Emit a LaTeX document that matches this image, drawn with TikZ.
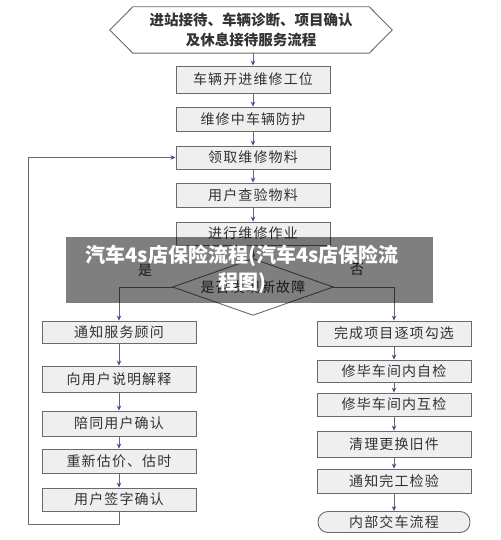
\documentclass[tikz,border=0pt]{standalone}
\usepackage{fontspec}
\newfontfamily\cjk{Noto Sans CJK SC}
\usetikzlibrary{arrows.meta}
\definecolor{linec}{HTML}{6A6A6A}
\definecolor{arrc}{HTML}{3E4F8C}
\definecolor{boxf}{HTML}{EFEFEF}
\definecolor{txt}{HTML}{333333}
\begin{document}
\begin{tikzpicture}[x=1pt,y=-1pt,
  box/.style={draw=linec, fill=boxf, line width=0.9pt, minimum width=154pt, inner sep=0pt,
    font=\cjk\fontsize{14}{16}\selectfont\addfontfeature{LetterSpace=8}, text=txt},
  lbl/.style={font=\cjk\fontsize{14}{16}\selectfont, text=txt},
  conn/.style={draw=linec, line width=0.8pt},
  arr/.style={conn, -{Stealth[length=5pt,width=4.5pt,color=arrc]}}]
\fill[white] (0,0) rectangle (500,540);
\useasboundingbox (0,0) rectangle (500,540);

% start hexagon
\node[minimum width=282pt, minimum height=46pt, inner sep=0pt] (start) at (251,30) {};
\draw[draw=linec, line width=0.9pt, fill=white] ([xshift=23pt]start.north west) -- ([xshift=-23pt]start.north east) -- (start.east)
  -- ([xshift=-23pt]start.south east) -- ([xshift=23pt]start.south west) -- (start.west) -- cycle;
\node[align=center, font=\cjk\bfseries\fontsize{14.5}{20}\selectfont, text=txt] (starttext) at (start.center)
  {进站接待、车辆诊断、项目确认\\及休息接待服务流程};

% main column
\node[box, minimum height=27pt] (m1) at (253,79.5) {车辆开进维修工位};
\node[box, minimum height=24pt] (m2) at (253,119) {维修中车辆防护};
\node[box, minimum height=23pt] (m3) at (253,157.5) {领取维修物料};
\node[box, minimum height=24pt] (m4) at (253,195) {用户查验物料};
\node[box, minimum height=23pt] (m5) at (253,233.5) {进行维修作业};

% decision
\node[minimum width=160pt, minimum height=56pt, inner sep=0pt] (dia) at (253,287) {};
\draw[draw=linec, line width=0.9pt, fill=white] (dia.north) -- (dia.east) -- (dia.south) -- (dia.west) -- cycle;
\node[font=\cjk\fontsize{14}{16}\selectfont\addfontfeature{LetterSpace=8}, text=txt] (diatext) at (dia.center) {是否发现新故障};
\node[lbl] (yes) at (145,270) {是};
\node[lbl] (no) at (357,270) {否};

% left column
\node[box, minimum height=22pt] (l1) at (119,332) {通知服务顾问};
\node[box, minimum height=26pt] (l2) at (119,379) {向用户说明解释};
\node[box, minimum height=25pt] (l3) at (119,423.5) {陪同用户确认};
\node[box, minimum height=24pt] (l4) at (119,461) {重新估价、估时};
\node[box, minimum height=23pt] (l5) at (119,499.5) {用户签字确认};

% right column
\node[box, minimum height=25pt] (r1) at (394,333.5) {完成项目逐项勾选};
\node[box, minimum height=22pt] (r2) at (394,371) {修毕车间内自检};
\node[box, minimum height=23pt] (r3) at (394,404.5) {修毕车间内互检};
\node[box, minimum height=26pt] (r4) at (394,444) {清理更换旧件};
\node[box, minimum height=24pt] (r5) at (394,481) {通知完工检验};
\node[box, minimum width=152pt, minimum height=21pt, rounded corners=10pt] (r6) at (394,522) {内部交车流程};

% connectors
\draw[arr] (start.south -| m1.north) -- (m1.north);
\draw[arr] (m1) -- (m2);
\draw[arr] (m2) -- (m3);
\draw[arr] (m3) -- (m4);
\draw[arr] (m4) -- (m5);
\draw[arr] (m5) -- (dia);
\draw[arr] (dia.west) -| (l1.north);
\draw[arr] (dia.east) -| (r1.north);
\draw[arr] (l1) -- (l2);
\draw[arr] (l2) -- (l3);
\draw[arr] (l3) -- (l4);
\draw[arr] (l4) -- (l5);
\draw[arr] (r1) -- (r2);
\draw[arr] (r2) -- (r3);
\draw[arr] (r3) -- (r4);
\draw[arr] (r4) -- (r5);
\draw[arr] (r5) -- (r6);
\coordinate (loopB) at (28,524);
\draw[arr] (l5.south) |- (loopB) |- (m3.west);

% overlay banner
\fill[black, opacity=0.5] (66,237) rectangle (433,303);
\node[align=center, text=white, font=\cjk\bfseries\fontsize{20}{27}\selectfont] (banner) at (242,269.5)
  {汽车4s店保险流程(汽车4s店保险流\\程图)};
\end{tikzpicture}
\end{document}
